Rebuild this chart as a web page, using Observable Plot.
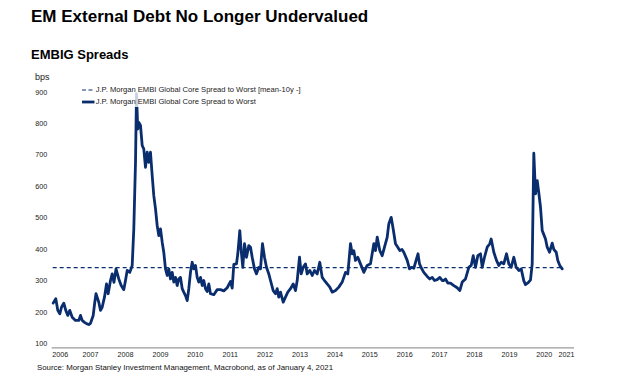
<!DOCTYPE html>
<html>
<head>
<meta charset="utf-8">
<script src="https://cdn.jsdelivr.net/npm/d3@7"></script>
<script src="https://cdn.jsdelivr.net/npm/@observablehq/plot@0.6"></script>
<style>
  html, body { margin: 0; padding: 0; background: #fff; }
  body { font-family: "Liberation Sans", Arial, sans-serif; color: #000; }
  #wrap { position: relative; width: 624px; height: 377px; overflow: hidden; }
  .abs { position: absolute; white-space: nowrap; }
  #title { left: 31px; top: 7.8px; font-size: 17px; line-height: 17px; font-weight: bold; }
  #subtitle { left: 31px; top: 47.7px; font-size: 13px; line-height: 13px; font-weight: bold; }
  #unit { left: 35px; top: 73px; font-size: 9px; line-height: 9px; color: #222; }
  #chart { left: 0; top: 64px; }
  #legend { left: 80px; top: 84px; width: 226px; height: 23px; background: rgba(255,255,255,0.78); }
  .lgItem { position: absolute; left: 1.7px; height: 8px; font-size: 7.6px; line-height: 8px; color: #222; }
  .lgItem svg { position: absolute; left: 0; top: 0; }
  .lgItem span { position: absolute; left: 14px; top: 0; }
  #source { left: 37px; top: 364px; font-size: 7.85px; line-height: 7.85px; color: #111; }
</style>
</head>
<body>
<div id="wrap">
  <div id="title" class="abs"></div>
  <div id="subtitle" class="abs"></div>
  <div id="chart" class="abs"></div>
  <div id="unit" class="abs"></div>
  <div id="legend" class="abs"></div>
  <div id="source" class="abs"></div>
</div>
<script>
// ---- Text ----
const titleText = "EM External Debt No Longer Undervalued";
const subtitleText = "EMBIG Spreads";
const unitText = "bps";
const meanLabel = "J.P. Morgan EMBI Global Core Spread to Worst [mean-10y -]";
const seriesLabel = "J.P. Morgan EMBI Global Core Spread to Worst";
const sourceText = "Source: Morgan Stanley Investment Management, Macrobond, as of January 4, 2021";

// ---- Axis ticks ----
const yTicks = [100, 200, 300, 400, 500, 600, 700, 800, 900];
const yearLabels = [2006, 2007, 2008, 2009, 2010, 2011, 2012, 2013, 2014, 2015, 2016, 2017, 2018, 2019, 2020, 2021];
const xDomain = [2006.40, 2021.365];
const yDomain = [87, 900];

// ---- Series (decimal year, bps) ----
const dates = [
  2006.428, 2006.503, 2006.560, 2006.618, 2006.666, 2006.732, 2006.789, 2006.847, 2006.904, 2006.973,
  2007.067, 2007.162, 2007.211, 2007.259, 2007.325, 2007.397, 2007.448, 2007.497, 2007.575, 2007.620,
  2007.655, 2007.735, 2007.784, 2007.832, 2007.898, 2007.956, 2008.004, 2008.070, 2008.119, 2008.170,
  2008.228, 2008.308, 2008.377, 2008.451, 2008.500, 2008.549, 2008.623, 2008.692, 2008.738, 2008.787,
  2008.815, 2008.852, 2008.881, 2008.930, 2008.979, 2009.024, 2009.073, 2009.122, 2009.168, 2009.216,
  2009.265, 2009.311, 2009.360, 2009.408, 2009.454, 2009.503, 2009.552, 2009.597, 2009.646, 2009.695,
  2009.741, 2009.789, 2009.838, 2009.884, 2009.933, 2009.981, 2010.027, 2010.076, 2010.125, 2010.170,
  2010.219, 2010.268, 2010.314, 2010.362, 2010.411, 2010.457, 2010.506, 2010.554, 2010.600, 2010.649,
  2010.698, 2010.744, 2010.792, 2010.841, 2010.887, 2010.935, 2011.030, 2011.128, 2011.222, 2011.317,
  2011.414, 2011.509, 2011.557, 2011.603, 2011.680, 2011.718, 2011.775, 2011.815, 2011.861, 2011.910,
  2011.967, 2012.033, 2012.082, 2012.130, 2012.196, 2012.254, 2012.319, 2012.368, 2012.425, 2012.483,
  2012.540, 2012.606, 2012.655, 2012.732, 2012.798, 2012.847, 2012.892, 2012.941, 2013.019, 2013.084,
  2013.150, 2013.228, 2013.305, 2013.371, 2013.420, 2013.486, 2013.534, 2013.592, 2013.658, 2013.706,
  2013.781, 2013.850, 2013.915, 2013.993, 2014.067, 2014.136, 2014.202, 2014.279, 2014.354, 2014.423,
  2014.517, 2014.612, 2014.709, 2014.804, 2014.870, 2014.947, 2014.996, 2015.042, 2015.090, 2015.156,
  2015.233, 2015.328, 2015.425, 2015.520, 2015.615, 2015.663, 2015.712, 2015.787, 2015.855, 2015.921,
  2015.999, 2016.044, 2016.113, 2016.170, 2016.236, 2016.302, 2016.360, 2016.423, 2016.474, 2016.572,
  2016.637, 2016.695, 2016.761, 2016.881, 2016.924, 2016.981, 2017.047, 2017.145, 2017.219, 2017.288,
  2017.354, 2017.431, 2017.506, 2017.574, 2017.620, 2017.669, 2017.735, 2017.812, 2017.907, 2018.004,
  2018.079, 2018.148, 2018.242, 2018.337, 2018.405, 2018.463, 2018.529, 2018.594, 2018.672, 2018.721,
  2018.786, 2018.864, 2018.938, 2018.978, 2019.053, 2019.130, 2019.196, 2019.265, 2019.339, 2019.417,
  2019.483, 2019.551, 2019.626, 2019.695, 2019.769, 2019.838, 2019.913, 2019.961, 2020.039, 2020.105,
  2020.153, 2020.199, 2020.248, 2020.296, 2020.342, 2020.391, 2020.440, 2020.486, 2020.534, 2020.583,
  2020.649, 2020.726, 2020.772, 2020.841, 2020.887, 2020.944, 2021.013
];
const spreads = [
  229, 243, 206, 195, 216, 229, 206, 190, 206, 184,
  174, 174, 190, 174, 168, 163, 161, 165, 190, 232,
  259, 232, 206, 216, 248, 290, 259, 301, 322, 295,
  338, 306, 285, 272, 301, 333, 327, 349, 465, 677,
  895, 783, 804, 794, 730, 720, 661, 709, 677, 709,
  635, 571, 529, 476, 444, 465, 423, 391, 338, 317,
  338, 306, 327, 296, 311, 285, 306, 311, 275, 264,
  253, 237, 275, 327, 359, 338, 349, 311, 296, 311,
  285, 301, 275, 266, 290, 259, 256, 272, 272, 268,
  278, 298, 277, 352, 354, 386, 460, 396, 343, 418,
  375, 412, 407, 375, 338, 322, 343, 338, 418, 375,
  343, 322, 301, 269, 259, 275, 248, 264, 232, 248,
  264, 275, 290, 269, 301, 375, 322, 343, 354, 322,
  333, 317, 333, 322, 359, 311, 301, 290, 280, 264,
  269, 280, 296, 327, 322, 418, 386, 396, 365, 375,
  354, 327, 349, 354, 418, 396, 439, 396, 380, 407,
  439, 481, 502, 465, 418, 407, 396, 400, 391, 365,
  338, 343, 340, 386, 354, 340, 327, 314, 306, 311,
  301, 304, 311, 301, 301, 306, 293, 293, 285, 278,
  269, 296, 306, 343, 349, 380, 343, 380, 386, 343,
  375, 407, 418, 433, 391, 365, 349, 359, 354, 386,
  354, 343, 375, 343, 333, 338, 300, 288, 294, 303,
  354, 706, 577, 619, 580, 534, 460, 447, 433, 407,
  391, 420, 400, 391, 365, 349, 338
];
const meanSpread = 342;

// ---- Styles ----
const navy = "#0a2d6e";
const font = "'Liberation Sans', Arial, sans-serif";

const data = dates.map((t, i) => ({t, v: spreads[i]}));

document.getElementById("title").textContent = titleText;
document.getElementById("subtitle").textContent = subtitleText;
document.getElementById("unit").textContent = unitText;
document.getElementById("source").textContent = sourceText;

// Legend
const legend = document.getElementById("legend");
function legendItem(top, label, dash, width) {
  const item = document.createElement("div");
  item.className = "lgItem";
  item.style.top = top + "px";
  item.innerHTML = `<svg width="13" height="8"><line x1="0" x2="12.5" y1="4" y2="4" stroke="${navy}" stroke-width="${width}" ${dash ? 'stroke-dasharray="4,2.5"' : ''}/></svg><span></span>`;
  item.querySelector("span").textContent = label;
  legend.appendChild(item);
}
legendItem(2, meanLabel, true, 1.2);
legendItem(13.7, seriesLabel, false, 2.8);

const chart = Plot.plot({
  width: 624,
  height: 296,
  marginLeft: 51.7,
  marginRight: 50,
  marginTop: 27.7,
  marginBottom: 12.7,
  style: {fontFamily: font, fontSize: "7.2px", background: "transparent", color: "#222"},
  x: {domain: xDomain, axis: null},
  y: {domain: yDomain, axis: null},
  marks: [
    Plot.axisY(yTicks, {anchor: "left", tickSize: 0, tickPadding: 5, label: null, tickFormat: d => String(d)}),
    Plot.axisX(yearLabels.slice(1, -1).map(y => y + 0.5), {anchor: "bottom", tickSize: 0, tickPadding: 4.2, label: null, tickFormat: d => String(Math.floor(d))}),
    Plot.text([yearLabels[0]], {x: xDomain[0], frameAnchor: "bottom", textAnchor: "start", lineAnchor: "top", dy: 4.2, text: d => String(d)}),
    Plot.text([yearLabels[yearLabels.length - 1]], {x: xDomain[1], frameAnchor: "bottom", textAnchor: "end", lineAnchor: "top", dy: 4.2, text: d => String(d)}),
    Plot.ruleY([yDomain[0]], {stroke: "#9a9a9a", strokeWidth: 1.2}),
    Plot.ruleY([meanSpread], {x1: dates[0], x2: dates[dates.length - 1], stroke: navy, strokeWidth: 1.2, strokeDasharray: "4,3"}),
    Plot.line(data, {x: "t", y: "v", stroke: navy, strokeWidth: 2.8, strokeLinejoin: "round"})
  ]
});
document.getElementById("chart").appendChild(chart);
</script>
</body>
</html>
